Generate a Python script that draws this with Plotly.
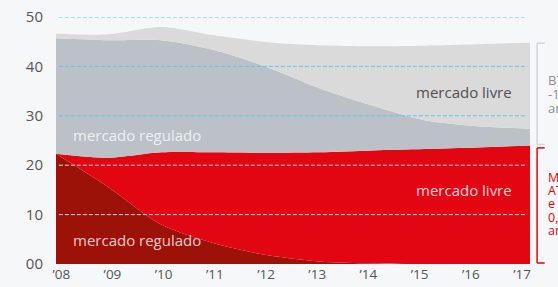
import plotly.graph_objects as go

years = [2008, 2009, 2010, 2011, 2012, 2013, 2014, 2015, 2016, 2017]
year_labels = ["’08", "’09", "’10", "’11", "’12", "’13", "’14", "’15", "’16", "’17"]

# stacked layers (bottom to top)
at_regulado = [22.3, 15.5, 8.0, 4.2, 1.8, 0.5, 0.1, 0.0, 0.0, 0.0]
at_livre = [0.0, 6.0, 14.6, 18.4, 20.7, 22.1, 22.9, 23.3, 23.6, 24.0]
bt_regulado = [23.4, 23.8, 22.7, 20.7, 17.4, 13.0, 9.1, 5.8, 4.3, 3.4]
bt_livre = [0.9, 1.2, 2.7, 3.0, 5.0, 8.7, 12.0, 15.1, 16.6, 17.4]

y_ticks = [0, 10, 20, 30, 40, 50]
y_tick_text = ["00", "10", "20", "30", "40", "50"]

bt_note = ["BT", "-1,3% ao", "ano"]
at_note = ["MT e", "AT +2%", "e +", "0,6% ao", "ano"]

FONT = "'Open Sans', Lato, sans-serif"
BG = "#f6f7f9"

fig = go.Figure()
layers = [
    ("mercado regulado", at_regulado, "#9c1108"),
    ("mercado livre", at_livre, "#e20613"),
    ("mercado regulado BT", bt_regulado, "#bbc1c7"),
    ("mercado livre BT", bt_livre, "#dadada"),
]
for name, vals, col in layers:
    fig.add_trace(go.Scatter(
        x=years, y=vals, name=name, stackgroup="one", mode="lines",
        line=dict(width=0, color=col, shape="spline", smoothing=0.8),
        fillcolor=col, showlegend=False, hoverinfo="skip",
    ))

# tick label positions slightly inset like reference
tick_pos = [2008.1 + i * 0.972 for i in range(len(years))]

fig.update_layout(
    template="none",
    width=558, height=287,
    margin=dict(l=56, r=28, t=17, b=23, pad=0),
    paper_bgcolor=BG, plot_bgcolor=BG,
    font=dict(family=FONT, color="#555555", size=13),
    xaxis=dict(range=[2008, 2017], showgrid=False, zeroline=False, showline=False,
               tickvals=tick_pos, ticktext=year_labels, ticks="", automargin=False,
               tickfont=dict(size=13.5, color="#555555"), fixedrange=True),
    yaxis=dict(range=[0, 50], showgrid=False, zeroline=False, showline=False,
               tickvals=y_ticks, ticktext=y_tick_text, ticks="", automargin=False,
               ticklabelstandoff=12,
               tickfont=dict(size=15, color="#555555"), fixedrange=True),
)

# gridlines drawn above the areas
for v in y_ticks[1:]:
    col = "#5ec6ef" if v >= 30 else "#d9dbe6"
    fig.add_shape(type="line", xref="paper", yref="y", x0=0.006, x1=0.994,
                  y0=v, y1=v, layer="above",
                  line=dict(color=col, width=1, dash="4px,2px"))

# brackets on right
def bracket(y0, y1, col):
    xv = 1.015
    xt = 1.031
    fig.add_shape(type="line", xref="paper", yref="y", x0=xv, x1=xv, y0=y0, y1=y1,
                  line=dict(color=col, width=1.5), layer="above")
    for yy in (y0, y1):
        fig.add_shape(type="line", xref="paper", yref="y", x0=xv, x1=xt, y0=yy, y1=yy,
                      line=dict(color=col, width=1.5), layer="above")

bracket(24.2, 44.7, "#d0d5dc")
bracket(0.2, 23.5, "#e20613")

# side notes, one line each for tight line spacing
for i, line in enumerate(bt_note):
    fig.add_annotation(xref="paper", yref="y", x=1.033, y=37.2 - i * 2.85,
                       xanchor="left", yanchor="middle", showarrow=False,
                       text=line, font=dict(size=13, color="#8a8f96"))
for i, line in enumerate(at_note):
    fig.add_annotation(xref="paper", yref="y", x=1.033, y=17.6 - i * 2.7,
                       xanchor="left", yanchor="middle", showarrow=False,
                       text=line, font=dict(size=12.5, color="#e20613"))

# in-chart labels
fig.add_annotation(x=2009.54, y=26.2, text="mercado regulado", showarrow=False,
                   font=dict(size=15, color="#eef0f2"))
fig.add_annotation(x=2009.54, y=4.8, text="mercado regulado", showarrow=False,
                   font=dict(size=15, color="#f1c8c8"))
fig.add_annotation(x=2015.75, y=34.8, text="mercado livre", showarrow=False,
                   font=dict(size=15, color="#505050"))
fig.add_annotation(x=2015.75, y=15.0, text="mercado livre", showarrow=False,
                   font=dict(size=15, color="#f8d3d6"))

fig.write_html(
    "out.html",
    config={"displayModeBar": False, "staticPlot": True},
    post_script="document.body.style.margin='0';document.body.style.overflow='hidden';"
                "document.body.style.background='" + BG + "';",
)
